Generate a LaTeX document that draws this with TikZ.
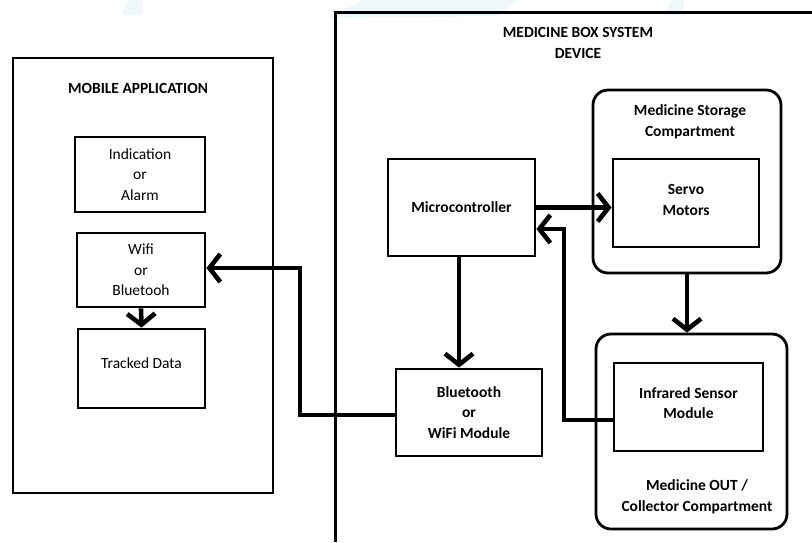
\documentclass[tikz,border=0pt]{standalone}
\usepackage{fontspec}
\setmainfont{Carlito}
\usetikzlibrary{arrows.meta}
\begin{document}
\begin{tikzpicture}[x=1pt,y=-1pt,
  box/.style={draw,line width=2.8pt,align=center,inner sep=0pt,font=\fontsize{15.5}{20.5}\selectfont},
  bbox/.style={box,font=\fontsize{15.5}{20.5}\selectfont\bfseries},
  rbox/.style={box,rounded corners=15pt},
  conn/.style={line width=4.6pt,-{Straight Barb[length=11pt,width=28pt]}},
  title/.style={align=center,font=\fontsize{15.5}{20.5}\selectfont\bfseries}]
\useasboundingbox (0,0) rectangle (812,542);
\fill[white] (0,0) rectangle (812,542);
% faint watermark
\fill[gray!30!cyan!8!white] (122,15) -- (128,0) -- (142,0) -- (142,15) -- cycle;
\fill[gray!30!cyan!8!white] (326,18) -- (363,0) -- (518,0) -- (497,16) -- cycle;
\fill[gray!30!cyan!8!white] (663,15) -- (672,0) -- (684,0) -- (684,15) -- cycle;
% outer containers
\draw[line width=3pt] (335,542) -- (335,12) -- (812,12);
\node[box, minimum width=260pt, minimum height=435pt] (mob) at (143,275.5) {};
\node[title] (mobt) at (138,88) {MOBILE APPLICATION};
\node[title] (devt) at (578,43) {MEDICINE BOX SYSTEM\\DEVICE};
% mobile app
\node[box, minimum width=130pt, minimum height=75pt] (ind) at (140,174.5) {Indication\\or\\Alarm};
\node[box, minimum width=128pt, minimum height=74pt] (wifi) at (141,270) {Wifi\\or\\Bluetooh};
\node[box, minimum width=127pt, minimum height=79pt, text depth=10pt] (trk) at (141.5,368.5) {Tracked Data};
% device
\node[bbox, minimum width=147pt, minimum height=97pt] (mcu) at (461.5,207.5) {Microcontroller};
\node[rbox, minimum width=188pt, minimum height=183pt] (stor) at (687,181.5) {};
\node[title] (stort) at (690,122) {Medicine Storage\\Compartment};
\node[bbox, minimum width=146pt, minimum height=88pt, text depth=6pt] (servo) at (686,203) {Servo\\Motors};
\node[rbox, minimum width=191pt, minimum height=195pt] (coll) at (691.5,431.5) {};
\node[bbox, minimum width=149pt, minimum height=88pt, text depth=8pt] (ir) at (688.5,407) {Infrared Sensor\\Module};
\node[title] (collt) at (697,497) {Medicine OUT /\\Collector Compartment};
\node[bbox, minimum width=146pt, minimum height=87pt] (bt) at (469,412.5) {Bluetooth\\or\\WiFi Module};
% connectors
\draw[conn] (wifi.south) -- (trk.north);
\draw[conn] (mcu.east) -- (mcu.east -| servo.west);
\draw[conn] (mcu.south -| bt.north) ++(-10,0) coordinate (mcub) (mcub) -- (mcub |- bt.north);
\draw[conn] (stor.south) -- (stor.south |- coll.north);
\coordinate (irl) at (564,420);
\draw[conn] (ir.west |- irl) -- (irl) -- (564,229) -- (mcu.east |- 0,229);
\coordinate (btl) at (300,415);
\draw[conn] (bt.west |- btl) -- (btl) -- (300,268) -- (wifi.east |- 0,268);
\end{tikzpicture}
\end{document}
